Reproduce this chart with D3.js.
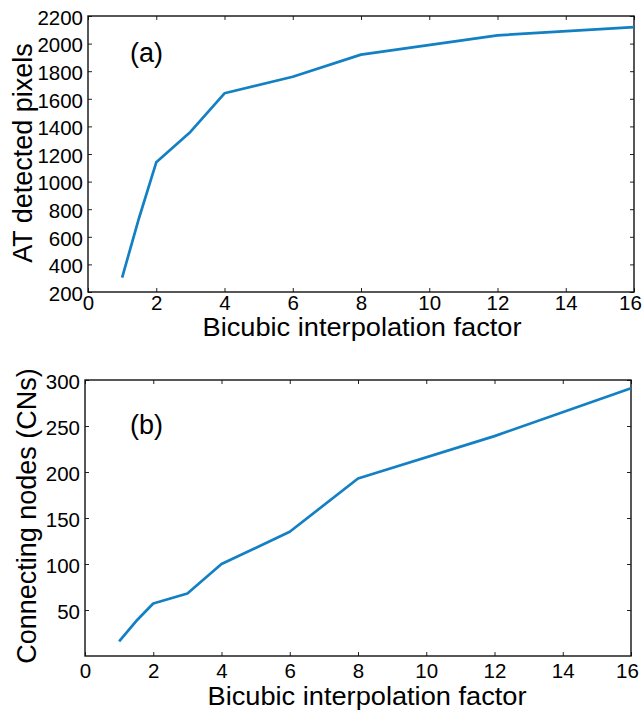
<!DOCTYPE html>
<html><head><meta charset="utf-8">
<script src="https://cdn.jsdelivr.net/npm/d3@7"></script>
<style>body{margin:0;background:#fff}svg{display:block}text{font-family:"Liberation Sans",Arial,Helvetica,sans-serif;fill:#000}</style>
</head><body><svg id="c" width="642" height="711"></svg>
<script>
const factorsA = [1, 1.5, 2, 3, 4, 6, 8, 12, 16];
const pixelsA = [305, 740, 1140, 1360, 1640, 1760, 1920, 2060, 2120];
const factorsB = [1, 1.5, 2, 3, 4, 6, 8, 12, 16];
const nodesB = [16, 38, 57, 68, 100, 135, 193, 239, 291];
const xTicks = [0, 2, 4, 6, 8, 10, 12, 14, 16];
const yTicksA = [200, 400, 600, 800, 1000, 1200, 1400, 1600, 1800, 2000, 2200];
const yTicksB = [50, 100, 150, 200, 250, 300];
const xTitle = "Bicubic interpolation factor";

const svg = d3.select("#c");
const lineColor = "#1380c4";

function panel(o) {
  const g = svg.append("g");
  const x = d3.scaleLinear().domain([0, 16]).range([o.left, o.right]);
  const y = d3.scaleLinear().domain(o.ydom).range([o.bottom, o.top]);
  const tl = 4;
  const bottomAx = d3.axisBottom(x).tickValues(xTicks).tickSize(-tl).tickPadding(o.xpad).tickFormat(d3.format("d"));
  const topAx = d3.axisTop(x).tickValues(xTicks).tickSize(-tl).tickFormat("");
  const leftAx = d3.axisLeft(y).tickValues(o.yticks).tickSize(-tl).tickPadding(5).tickFormat(d3.format("d"));
  const rightAx = d3.axisRight(y).tickValues(o.yticks).tickSize(-tl).tickFormat("");
  const gb = g.append("g").attr("transform", `translate(0,${o.bottom})`).call(bottomAx);
  const gt = g.append("g").attr("transform", `translate(0,${o.top})`).call(topAx);
  const gl = g.append("g").attr("transform", `translate(${o.left},0)`).call(leftAx);
  const gr = g.append("g").attr("transform", `translate(${o.right},0)`).call(rightAx);
  [gb, gt, gl, gr].forEach(a => {
    a.select(".domain").remove();
    a.selectAll(".tick line").attr("stroke", "#222").attr("stroke-width", 1);
    a.selectAll("text").style("font-size", "20.5px").attr("fill", "#000");
  });
  gb.selectAll(".tick text").attr("dy", "0.71em")
    .attr("dx", d => d === 16 ? -4 : 0);
  gl.selectAll(".tick text").attr("dy", "0.4em");
  g.append("rect").attr("x", o.left).attr("y", o.top)
    .attr("width", o.right - o.left).attr("height", o.bottom - o.top)
    .attr("fill", "none").attr("stroke", "#111").attr("stroke-width", 1.4);
  const line = d3.line().x(d => x(d[0])).y(d => y(d[1]));
  g.append("path").datum(o.xs.map((v, i) => [v, o.ys[i]]))
    .attr("d", line).attr("fill", "none").attr("stroke", lineColor)
    .attr("stroke-width", 2.7).attr("stroke-linejoin", "round");
  g.append("text").attr("x", o.xtitleCx).attr("y", o.xtitleY)
    .attr("text-anchor", "middle").style("font-size", "25px")
    .attr("textLength", 319).attr("lengthAdjust", "spacingAndGlyphs").text(xTitle);
  g.append("text").attr("transform", `translate(${o.ytitleX},${o.ytitleCy}) rotate(-90)`)
    .attr("text-anchor", "middle").style("font-size", "27px").text(o.ytitle);
  g.append("text").attr("x", o.labelX).attr("y", o.labelY).style("font-size", "27px").text(o.label);
}

panel({left: 88, right: 634, top: 16, bottom: 292, ydom: [200, 2200], yticks: yTicksA, xpad: 3,
  xs: factorsA, ys: pixelsA, xtitleCx: 362, xtitleY: 336, ytitle: "AT detected pixels", ytitleX: 32, ytitleCy: 153,
  label: "(a)", labelX: 130, labelY: 62});
panel({left: 85, right: 631, top: 380, bottom: 656, ydom: [0, 300], yticks: yTicksB, xpad: 7,
  xs: factorsB, ys: nodesB, xtitleCx: 367, xtitleY: 705, ytitle: "Connecting nodes (CNs)", ytitleX: 36, ytitleCy: 516,
  label: "(b)", labelX: 130, labelY: 434});
</script></body></html>
